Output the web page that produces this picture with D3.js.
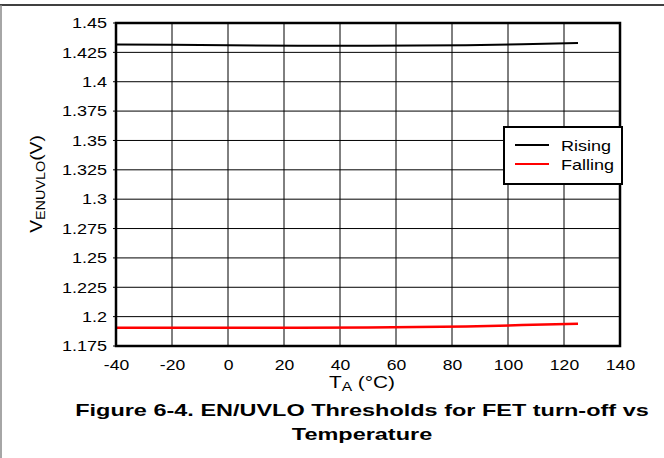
<!DOCTYPE html>
<html>
<head>
<meta charset="utf-8">
<script src="https://cdn.jsdelivr.net/npm/d3@7"></script>
<style>
  body { margin: 0; background: #fff; }
  svg text { font-family: Arial, "Liberation Sans", sans-serif; }
</style>
</head>
<body>
<div id="chart"></div>
<script>
// data
let temps = [-40, -20, 0, 25, 50, 85, 105, 125];
let rising = [1.4318, 1.4314, 1.4310, 1.4306, 1.4306, 1.4310, 1.4320, 1.4330];
let falling = [1.1905, 1.1905, 1.1905, 1.1905, 1.1908, 1.1915, 1.1928, 1.1940];
let xTicks = [-40, -20, 0, 20, 40, 60, 80, 100, 120, 140];
let yTicks = [1.175, 1.2, 1.225, 1.25, 1.275, 1.3, 1.325, 1.35, 1.375, 1.4, 1.425, 1.45];
let seriesNames = ["Rising", "Falling"];
let seriesColors = ["#000", "#ff0000"];

let width = 664, height = 458;
let plotLeft = 116, plotRight = 620, plotTop = 23, plotBottom = 346;

let svg = d3.select("#chart").append("svg")
  .attr("width", width)
  .attr("height", height);

// the source picture has its text a bit wider than Arial, so stretch it
function stretch(sel, k) {
  sel.each(function() {
    let len = this.getComputedTextLength();
    d3.select(this)
      .attr("textLength", len * k)
      .attr("lengthAdjust", "spacingAndGlyphs");
  });
}

// page frame
svg.append("line").attr("x1", 0).attr("x2", width).attr("y1", 5).attr("y2", 5)
  .attr("stroke", "#000").attr("stroke-width", 1.5);
svg.append("line").attr("x1", 1).attr("x2", 1).attr("y1", 5).attr("y2", height)
  .attr("stroke", "#888").attr("stroke-width", 1.5);

let x = d3.scaleLinear().domain([-40, 140]).range([plotLeft, plotRight]);
let y = d3.scaleLinear().domain([1.175, 1.45]).range([plotBottom, plotTop]);

// grid
svg.append("g")
  .selectAll("line")
  .data(xTicks)
  .enter().append("line")
  .attr("x1", d => x(d)).attr("x2", d => x(d))
  .attr("y1", plotTop).attr("y2", plotBottom)
  .attr("stroke", "#000").attr("stroke-width", 1);
svg.append("g")
  .selectAll("line")
  .data(yTicks)
  .enter().append("line")
  .attr("x1", plotLeft - 3).attr("x2", plotRight)
  .attr("y1", d => y(d)).attr("y2", d => y(d))
  .attr("stroke", "#000").attr("stroke-width", 1);

// axes (labels only, frame drawn below)
let xAxis = d3.axisBottom(x).tickValues(xTicks).tickSize(0).tickPadding(13)
  .tickFormat(d => String(d));
let yAxis = d3.axisLeft(y).tickValues(yTicks).tickSize(0).tickPadding(9)
  .tickFormat(d => String(+d.toFixed(3)));

let gx = svg.append("g").attr("transform", "translate(0," + plotBottom + ")").call(xAxis);
let gy = svg.append("g").attr("transform", "translate(" + plotLeft + ",0)").call(yAxis);
gx.select(".domain").remove();
gy.select(".domain").remove();
gx.selectAll("text").attr("font-size", 15).attr("fill", "#000")
  .attr("font-family", "Arial, 'Liberation Sans', sans-serif");
gy.selectAll("text").attr("font-size", 15).attr("fill", "#000")
  .attr("font-family", "Arial, 'Liberation Sans', sans-serif");
stretch(gx.selectAll("text"), 1.17);
stretch(gy.selectAll("text"), 1.2);

// series lines
let line = d3.line()
  .x((d, i) => x(temps[i]))
  .y(d => y(d));
[rising, falling].forEach(function(vals, i) {
  svg.append("path")
    .datum(vals)
    .attr("d", line)
    .attr("fill", "none")
    .attr("stroke", seriesColors[i])
    .attr("stroke-width", i === 0 ? 2 : 2.5);
});

// plot frame
svg.append("rect")
  .attr("x", plotLeft).attr("y", plotTop)
  .attr("width", plotRight - plotLeft).attr("height", plotBottom - plotTop)
  .attr("fill", "none").attr("stroke", "#000").attr("stroke-width", 2.5);

// legend
let lg = svg.append("g").attr("transform", "translate(504,127)");
lg.append("rect").attr("width", 118).attr("height", 57)
  .attr("fill", "#fff").attr("stroke", "#000").attr("stroke-width", 2);
seriesNames.forEach(function(name, i) {
  lg.append("line")
    .attr("x1", 11).attr("x2", 45)
    .attr("y1", 18 + i * 19).attr("y2", 18 + i * 19)
    .attr("stroke", seriesColors[i]).attr("stroke-width", 2);
  let t = lg.append("text")
    .attr("x", 57).attr("y", 24 + i * 19)
    .attr("font-size", 15)
    .text(name);
  stretch(t, 1.2);
});

// axis titles
let xt = svg.append("text")
  .attr("x", 362).attr("y", 388)
  .attr("text-anchor", "middle")
  .attr("font-size", 16);
xt.append("tspan").text("T");
xt.append("tspan").attr("font-size", 12).attr("dy", 3).text("A");
xt.append("tspan").attr("dy", -3).text(" (°C)");
stretch(xt, 1.3);

let yt = svg.append("text")
  .attr("transform", "translate(42,184) rotate(-90)")
  .attr("text-anchor", "middle")
  .attr("font-size", 16);
yt.append("tspan").text("V");
yt.append("tspan").attr("font-size", 12).attr("dy", 3).text("ENUVLO");
yt.append("tspan").attr("dy", -3).text("(V)");
stretch(yt, 1.2);

// caption
let c1 = svg.append("text")
  .attr("x", 362).attr("y", 416)
  .attr("text-anchor", "middle")
  .attr("font-size", 17).attr("font-weight", "bold")
  .text("Figure 6-4. EN/UVLO Thresholds for FET turn-off vs");
let c2 = svg.append("text")
  .attr("x", 362).attr("y", 440)
  .attr("text-anchor", "middle")
  .attr("font-size", 17).attr("font-weight", "bold")
  .text("Temperature");
stretch(c1, 1.38);
stretch(c2, 1.38);
</script>
</body>
</html>
